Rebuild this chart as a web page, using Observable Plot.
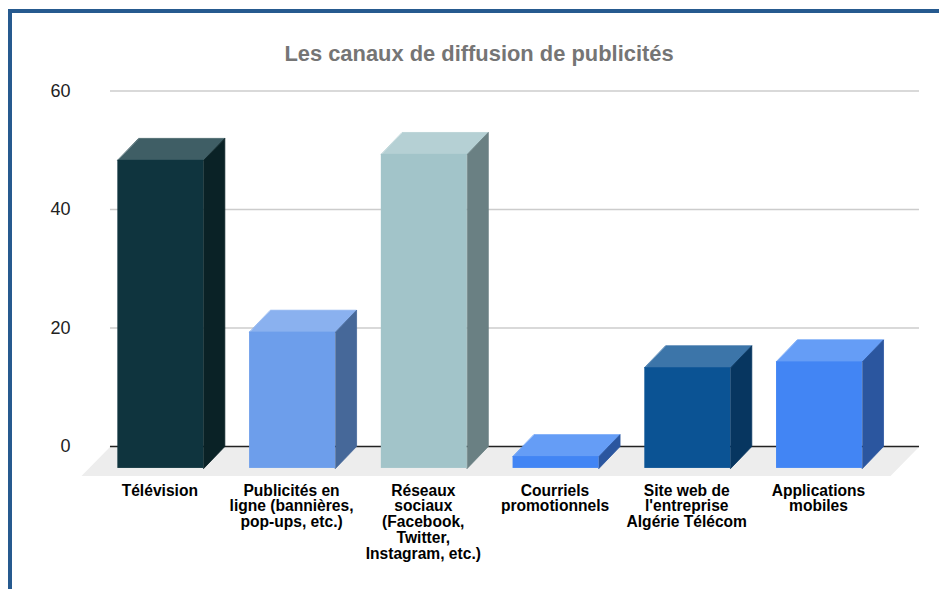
<!DOCTYPE html>
<html lang="fr">
<head>
<meta charset="utf-8">
<script src="https://cdn.jsdelivr.net/npm/d3@7"></script>
<script src="https://cdn.jsdelivr.net/npm/@observablehq/plot@0.6"></script>
<style>
  html, body { margin: 0; padding: 0; background: #fff; overflow: hidden; }
  #page { position: relative; width: 939px; height: 589px; }
  #frame { position: absolute; left: 8px; top: 9px; right: 0; bottom: 0;
           border-top: 4px solid #265a8f; border-left: 4px solid #265a8f; }
  #title { position: absolute; left: 0; width: 958px; top: 42px; text-align: center;
           font: bold 21.9px/24px "Liberation Sans", Arial, sans-serif; color: #757575; }
  #chart { position: absolute; left: 0; top: 0; }
  #chart svg { display: block; }
</style>
</head>
<body>
<div id="page">
  <div id="frame"></div>
  <div id="chart"></div>
  <div id="title">Les canaux de diffusion de publicités</div>
</div>
<script>
const categories = [
  "Télévision",
  "Publicités en\nligne (bannières,\npop-ups, etc.)",
  "Réseaux\nsociaux\n(Facebook,\nTwitter,\nInstagram, etc.)",
  "Courriels\npromotionnels",
  "Site web de\nl'entreprise\nAlgérie Télécom",
  "Applications\nmobiles"
];
const values = [52, 23, 53, 2, 17, 18];
const frontColors = ["#0f343e", "#6d9eeb", "#a2c4c9", "#4285f4", "#0b5394", "#4285f4"];
const topColors = ["#3f5e65", "#8ab1ef", "#b5d0d4", "#659df6", "#3c75a9", "#659df6"];
const sideColors = ["#0a2226", "#466899", "#6a8083", "#2b569f", "#073660", "#2b569f"];
const yTicks = [0, 20, 40, 60];

// Projection of the 3D box, in data units
const halfBar = 0.326, depthX = 0.16, depthY = 3.7;
const wallLeft = -0.382, wallRight = 5.759, floorX = 0.22, floorY = 4.98;

const faces = [];
values.forEach((v, i) => {
  const l = i - halfBar, r = i + halfBar;
  const push = (name, color, pts) => pts.forEach(([x, y]) => faces.push({face: name + i, color, x, y}));
  push("top", topColors[i], [[l, v - depthY], [r, v - depthY], [r + depthX, v], [l + depthX, v]]);
  push("side", sideColors[i], [[r, v - depthY], [r + depthX, v], [r + depthX, 0], [r, -depthY]]);
});
const bars = values.map((v, i) => ({
  x1: i - halfBar, x2: i + halfBar, y1: -depthY, y2: v - depthY, color: frontColors[i]
}));
const floor = [
  {x: wallLeft, y: 0}, {x: wallRight, y: 0},
  {x: wallRight - floorX, y: -floorY}, {x: wallLeft - floorX, y: -floorY}
];

const plot = Plot.plot({
  width: 939,
  height: 589,
  marginLeft: 79,
  marginRight: 0,
  marginTop: 0,
  marginBottom: 109,
  style: {background: "transparent", fontFamily: "'Liberation Sans', Arial, sans-serif"},
  x: {type: "linear", domain: [0, 5], range: [160.3, 819]},
  y: {type: "linear", domain: [0, 60], range: [446, 90.5]},
  color: {type: "identity"},
  marks: [
    Plot.line(floor, {x: "x", y: "y", fill: "#ededed", stroke: "none", curve: "linear-closed"}),
    Plot.ruleY(yTicks.filter(d => d > 0), {x1: wallLeft, x2: wallRight, stroke: "#cccccc", strokeWidth: 1.5}),
    Plot.ruleY([0], {x1: wallLeft, x2: wallRight, stroke: "#222222", strokeWidth: 1.3}),
    Plot.axisY({ticks: yTicks, tickSize: 0, tickPadding: 9, label: null, fontSize: 18, color: "#222222"}),
    Plot.line(faces, {x: "x", y: "y", z: "face", fill: "color", stroke: "color", strokeWidth: 0.8, curve: "linear-closed"}),
    Plot.rect(bars, {x1: "x1", x2: "x2", y1: "y1", y2: "y2", fill: "color", inset: 0}),
    Plot.axisX({
      ticks: d3.range(categories.length),
      tickFormat: i => categories[i],
      tickSize: 0, tickPadding: 4, label: null, line: false,
      fontSize: 15.6, fontWeight: "bold", lineHeight: 1.01, color: "#000000",
      lineAnchor: "top", dx: -1, textOverflow: null
    })
  ]
});
document.getElementById("chart").append(plot);
</script>
</body>
</html>
